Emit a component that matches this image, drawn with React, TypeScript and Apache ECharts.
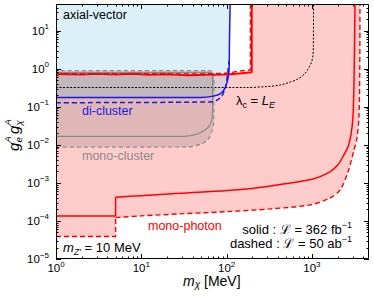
import React, { useEffect, useRef } from 'react';
import * as echarts from 'echarts';

const FONT = "'Liberation Sans', Arial, Helvetica, sans-serif";

const X_MIN = 1;
const X_MAX = 4670;
const Y_MIN = 1e-5;
const Y_MAX = 50;

const xMajor = [1, 10, 100, 1000];
const yMajor = [1e-5, 1e-4, 1e-3, 1e-2, 1e-1, 1, 10];
const minorMult = [2, 3, 4, 5, 6, 7, 8, 9];
const xMinor: number[] = [];
for (const d of [1, 10, 100, 1000]) for (const m of minorMult) if (d * m < X_MAX) xMinor.push(d * m);
const yMinor: number[] = [];
for (const d of [1e-5, 1e-4, 1e-3, 1e-2, 1e-1, 1, 10]) for (const m of minorMult) if (d * m < Y_MAX) yMinor.push(d * m);

// mono-photon (red)
const monoPhotonSolidLow = [[1, 1.35e-4], [5, 1.35e-4], [5, 4.2e-4], [10, 4.6e-4], [28, 5.3e-4], [173, 6.95e-4], [423, 9.1e-4], [1030, 1.27e-3], [1630, 1.95e-3], [2020, 2.98e-3], [2380, 5.5e-3], [2650, 8.9e-3], [2870, 0.0183], [3030, 0.0546], [3120, 0.51], [3200, 50]];
const monoPhotonDashedLow = [[1, 3.9e-5], [5, 3.9e-5], [5, 1.22e-4], [10, 1.36e-4], [28, 1.53e-4], [100, 1.75e-4], [323, 2.07e-4], [950, 2.64e-4], [1630, 4.0e-4], [2135, 6.5e-4], [2650, 1.95e-3], [3120, 7.4e-3], [3380, 0.0153], [3570, 0.062], [3640, 1], [3660, 50]];
const monoPhotonSolidHigh = [[1, 0.72], [2, 0.7], [3, 0.73], [5, 0.7], [8, 0.74], [12, 0.69], [20, 0.71], [35, 0.67], [60, 0.69], [100, 0.7], [140, 0.75], [197, 0.8], [197, 50]];
const monoPhotonDashedHigh = [[1, 0.74], [50, 0.73], [100, 0.76], [150, 0.88], [190, 0.92], [190, 50]];

// di-cluster (blue)
const diClusterSolid = [[1, 0.176], [49, 0.176], [70, 0.19], [85, 0.22], [95, 0.3], [103, 0.51], [107, 0.95], [108, 5], [110, 50]];
const diClusterDashed = [[1, 0.128], [70, 0.135], [88, 0.19], [98, 0.35], [103, 0.78], [107, 1.6]];

// mono-cluster (gray)
const monoClusterSolid = [[1, 0.0166], [31, 0.0166], [45, 0.019], [55, 0.024], [63, 0.032], [67, 0.045], [68.5, 0.1], [68.5, 0.6], [67, 0.75], [60, 0.8], [1, 0.8]];
const monoClusterDashed = [[1, 0.0087], [37, 0.0088], [50, 0.0105], [60, 0.0135], [66, 0.02], [70, 0.033], [71, 0.06], [71, 0.7], [69, 0.84], [60, 0.885], [1, 0.885]];

// lambda_c = L_E (black dotted)
const lambdaEqualLE = [[1, 0.32], [170, 0.32], [300, 0.34], [420, 0.37], [550, 0.44], [700, 0.55], [830, 0.75], [930, 1.1], [1000, 1.6], [1030, 2.3], [1040, 4], [1045, 50]];

const RED = '#ff0000';
const BLUE = 'rgb(25,25,230)';
const GRAY = '#8a8a8a';

function polygonSeries(pts: number[][], fill: string, z: number) {
  return {
    type: 'custom',
    coordinateSystem: 'cartesian2d',
    xAxisIndex: 0,
    yAxisIndex: 0,
    z,
    silent: true,
    clip: true,
    data: [[pts[0][0], pts[0][1]]],
    renderItem: (_p: any, api: any) => ({
      type: 'polygon',
      shape: { points: pts.map((p) => api.coord(p)) },
      style: { fill, stroke: 'none' },
    }),
  };
}

function lineSeries(data: number[][], color: string, width: number, type: any, z: number, smooth: any = false) {
  return {
    type: 'line',
    data,
    xAxisIndex: 0,
    yAxisIndex: 0,
    showSymbol: false,
    symbol: 'none',
    silent: true,
    smooth,
    z,
    clip: true,
    lineStyle: { color, width, type },
  };
}

const tickSeries = {
  type: 'custom',
  coordinateSystem: 'cartesian2d',
  xAxisIndex: 0,
  yAxisIndex: 0,
  z: 30,
  silent: true,
  clip: false,
  data: [[1, 1]],
  renderItem: (params: any, api: any) => {
    const cs = params.coordSys;
    const L = cs.x, T = cs.y, R = cs.x + cs.width, B = cs.y + cs.height;
    const children: any[] = [];
    const st = { stroke: '#000', lineWidth: 1 };
    const addX = (v: number, len: number) => {
      const x = Math.round(api.coord([v, 1])[0]) + 0.5;
      children.push({ type: 'line', shape: { x1: x, y1: B, x2: x, y2: B - len }, style: st });
      children.push({ type: 'line', shape: { x1: x, y1: T, x2: x, y2: T + len }, style: st });
    };
    const addY = (v: number, len: number) => {
      const y = Math.round(api.coord([1, v])[1]) + 0.5;
      children.push({ type: 'line', shape: { x1: L, y1: y, x2: L + len, y2: y }, style: st });
      children.push({ type: 'line', shape: { x1: R, y1: y, x2: R - len, y2: y }, style: st });
    };
    xMajor.forEach((v) => addX(v, 5));
    xMinor.forEach((v) => addX(v, 2.5));
    yMajor.forEach((v) => addY(v, 5));
    yMinor.forEach((v) => addY(v, 2.5));
    children.push({ type: 'rect', shape: { x: L + 0.5, y: T + 0.5, width: cs.width - 1, height: cs.height - 1 }, style: { fill: 'none', stroke: '#000', lineWidth: 1 } });
    return { type: 'group', children };
  },
};

const powLabel = (v: number) => {
  const l = Math.log10(v);
  const e = Math.round(l);
  if (Math.abs(l - e) > 1e-6) return '';
  return `{b|10}{s|${e < 0 ? '\u2212' + -e : e}}`;
};

const tickRich = {
  b: { fontSize: 11.5, fontFamily: FONT, color: '#000', lineHeight: 16 },
  s: { fontSize: 8, fontFamily: FONT, color: '#000', lineHeight: 8, verticalAlign: 'top' },
};

const annotRich = {
  n: { fontSize: 13, fontFamily: FONT, color: '#000', lineHeight: 18 },
  i: { fontSize: 13, fontFamily: FONT, fontStyle: 'italic', color: '#000', lineHeight: 18 },
  sb: { fontSize: 9, fontFamily: FONT, color: '#000', lineHeight: 10, verticalAlign: 'bottom' },
  sbi: { fontSize: 9, fontFamily: FONT, fontStyle: 'italic', color: '#000', lineHeight: 10, verticalAlign: 'bottom' },
  sp: { fontSize: 9, fontFamily: FONT, color: '#000', lineHeight: 8, verticalAlign: 'top' },
};

const txt = (x: number, y: number, text: string, size: number, fill: string, extra: any = {}) => ({
  type: 'text',
  x,
  y,
  silent: true,
  z: 40,
  style: { text, fontSize: size, fontFamily: FONT, fill, align: 'left', verticalAlign: 'middle', ...extra },
});

const option: any = {
  animation: false,
  backgroundColor: '#fff',
  grid: { left: 56, right: 5, top: 4, bottom: 39, containLabel: false },
  xAxis: {
    type: 'log',
    logBase: 10,
    min: X_MIN,
    max: X_MAX,
    z: 10,
    axisLine: { show: false },
    axisTick: { show: false },
    splitLine: { show: false },
    minorTick: { show: false },
    axisLabel: { formatter: powLabel, rich: tickRich, margin: 1, showMaxLabel: false },
  },
  yAxis: {
    type: 'log',
    logBase: 10,
    min: Y_MIN,
    max: Y_MAX,
    z: 10,
    axisLine: { show: false },
    axisTick: { show: false },
    splitLine: { show: false },
    minorTick: { show: false },
    axisLabel: { formatter: powLabel, rich: tickRich, margin: 7, showMaxLabel: false },
  },
  series: [
    polygonSeries([...monoPhotonDashedLow, ...[...monoPhotonSolidHigh].reverse()], '#ffcccc', 1),
    polygonSeries([...diClusterSolid, [1, 50]], 'rgba(135,206,235,0.3)', 2),
    polygonSeries(monoClusterDashed, 'rgba(100,100,100,0.2)', 3),
    lineSeries(lambdaEqualLE, '#000', 1, [2, 1.6], 5, 0.3),
    lineSeries(monoClusterDashed, GRAY, 1.2, [4, 3], 6, 0.2),
    lineSeries(monoClusterSolid, GRAY, 1.2, 'solid', 6, 0.2),
    lineSeries(monoPhotonDashedLow.slice(0, 3), RED, 1.4, [5, 3], 7),
    lineSeries(monoPhotonDashedLow.slice(2), RED, 1.4, [5, 3], 7, 0.3),
    lineSeries(monoPhotonSolidLow.slice(0, 3), RED, 1.5, 'solid', 7),
    lineSeries(monoPhotonSolidLow.slice(2), RED, 1.5, 'solid', 7, 0.3),
    lineSeries(monoPhotonDashedHigh, RED, 1.4, [5, 3], 7),
    lineSeries(monoPhotonSolidHigh, RED, 2, 'solid', 7),
    lineSeries(diClusterDashed, BLUE, 1.5, [5, 3], 8, 0.2),
    lineSeries(diClusterSolid, BLUE, 1.5, 'solid', 8, 0.2),
    tickSeries,
  ],
  graphic: [
    txt(63, 15, 'axial-vector', 12.5, '#000'),
    txt(82, 111, 'di-cluster', 12.5, BLUE),
    txt(82, 156, 'mono-cluster', 12.5, GRAY),
    txt(148, 226, 'mono-photon', 12.5, RED),
    {
      type: 'text', x: 63, y: 247, z: 40, silent: true,
      style: { text: '{i|m}{sbi|Z\u2032}{n| = 10 MeV}', rich: annotRich, align: 'left', verticalAlign: 'middle' },
    },
    {
      type: 'text', x: 236, y: 100, z: 40, silent: true,
      style: { text: '{n|\u03bb}{sb|c}{n| = }{i|L}{sbi|E}', rich: annotRich, align: 'left', verticalAlign: 'middle' },
    },
    {
      type: 'text', x: 352, y: 229, z: 40, silent: true,
      style: { text: '{n|solid : \u2112 = 362 fb}{sp|\u22121}', rich: annotRich, align: 'right', verticalAlign: 'middle' },
    },
    {
      type: 'text', x: 352, y: 243, z: 40, silent: true,
      style: { text: '{n|dashed : \u2112 = 50 ab}{sp|\u22121}', rich: annotRich, align: 'right', verticalAlign: 'middle' },
    },
    {
      type: 'text', x: 183, y: 281, z: 40, silent: true,
      style: {
        text: '{i|m}{s|\u03c7}{n| [MeV]}',
        rich: {
          i: { fontSize: 14, fontFamily: FONT, fontStyle: 'italic', color: '#000', lineHeight: 16 },
          n: { fontSize: 14, fontFamily: FONT, color: '#000', lineHeight: 16 },
          s: { fontSize: 10, fontFamily: FONT, fontStyle: 'italic', color: '#000', lineHeight: 10, verticalAlign: 'bottom' },
        },
        align: 'left',
        verticalAlign: 'middle',
      },
    },
    {
      type: 'group', x: 13, y: 133, rotation: Math.PI / 2, z: 40, silent: true,
      children: [
        { type: 'text', x: -18, y: 0, style: { text: 'g', fontSize: 15, fontStyle: 'italic', fontFamily: FONT, fill: '#000', verticalAlign: 'middle' } },
        { type: 'text', x: -9.5, y: -6, style: { text: 'A', fontSize: 9.5, fontStyle: 'italic', fontFamily: FONT, fill: '#000', verticalAlign: 'middle' } },
        { type: 'text', x: -9.5, y: 5, style: { text: 'e', fontSize: 9.5, fontStyle: 'italic', fontFamily: FONT, fill: '#000', verticalAlign: 'middle' } },
        { type: 'text', x: -1, y: 0, style: { text: 'g', fontSize: 15, fontStyle: 'italic', fontFamily: FONT, fill: '#000', verticalAlign: 'middle' } },
        { type: 'text', x: 7.5, y: -6, style: { text: 'A', fontSize: 9.5, fontStyle: 'italic', fontFamily: FONT, fill: '#000', verticalAlign: 'middle' } },
        { type: 'text', x: 7.5, y: 5, style: { text: '\u03c7', fontSize: 9.5, fontStyle: 'italic', fontFamily: FONT, fill: '#000', verticalAlign: 'middle' } },
      ],
    },
  ],
};

export default function App() {
  const ref = useRef<HTMLDivElement>(null);
  useEffect(() => {
    const chart = echarts.init(ref.current!, null, { renderer: 'svg' });
    chart.setOption(option);
    return () => chart.dispose();
  }, []);
  return (
    <div
      ref={ref}
      style={{ position: 'fixed', left: 0, top: 0, width: 374, height: 298, background: '#fff' }}
    />
  );
}
